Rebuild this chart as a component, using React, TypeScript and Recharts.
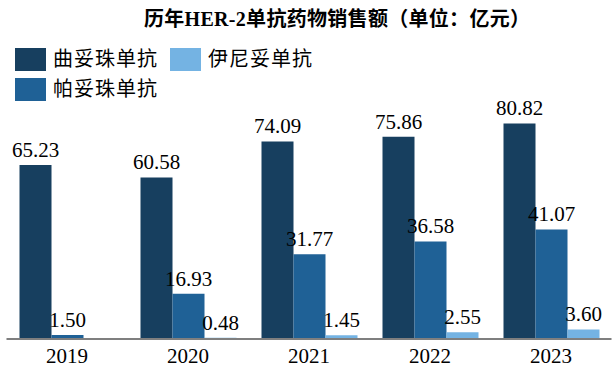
import React from 'react';
import { BarChart, Bar, XAxis, YAxis, LabelList } from 'recharts';

const years = ['2019', '2020', '2021', '2022', '2023'];
const trastuzumab = [65.23, 60.58, 74.09, 75.86, 80.82];
const pertuzumab = [1.5, 16.93, 31.77, 36.58, 41.07];
const inetetamab: (number | null)[] = [null, 0.48, 1.45, 2.55, 3.6];

const seriesNames = ['曲妥珠单抗', '帕妥珠单抗', '伊尼妥单抗'];
const colors = ['#173F5F', '#1F6196', '#74B3E3'];

const data = years.map((y, i) => ({
  year: y,
  a: trastuzumab[i],
  b: pertuzumab[i],
  c: inetetamab[i],
}));

const serif = '"Liberation Serif", "Times New Roman", serif';
const cjk = '"Liberation Serif", "Noto Sans CJK SC", serif';

const fmt = (v: any) => (v === null || v === undefined ? '' : Number(v).toFixed(2));

const LegendBox = () => (
  <div
    style={{
      position: 'absolute',
      left: 15,
      top: 48,
      display: 'grid',
      gridAutoFlow: 'column',
      gridTemplateRows: '30px 30px',
      gridTemplateColumns: '155px 160px',
    }}
  >
    {seriesNames.map((n, i) => (
      <div key={n} style={{ display: 'flex', alignItems: 'flex-start' }}>
        <div style={{ width: 31, height: 23, background: colors[i], flex: 'none' }} />
        <span
          style={{
            marginLeft: 7,
            fontFamily: cjk,
            fontSize: 20,
            letterSpacing: 1,
            lineHeight: '23px',
            color: '#000',
            whiteSpace: 'nowrap',
          }}
        >
          {n}
        </span>
      </div>
    ))}
  </div>
);

const Tick = (props: any) => {
  const { x, y, payload } = props;
  return (
    <text x={x} y={y} dy={16} textAnchor="middle" fontFamily={serif} fontSize={21} fill="#000">
      {payload.value}
    </text>
  );
};

export default function App() {
  return (
    <div style={{ position: 'absolute', left: 0, top: 0, width: 613, height: 367, background: '#fff' }}>
      <BarChart
        width={613}
        height={367}
        data={data}
        margin={{ top: 99, right: 1.5, bottom: 0, left: 6.5 }}
        barCategoryGap={13}
        barGap={0}
      >
        <XAxis
          dataKey="year"
          height={28}
          tickLine={false}
          axisLine={{ stroke: '#7f7f7f', strokeWidth: 2 }}
          tick={<Tick />}
          interval={0}
        />
        <YAxis hide domain={[0, 90]} />
        <Bar dataKey="a" name={seriesNames[0]} fill={colors[0]} isAnimationActive={false}>
          <LabelList dataKey="a" position="top" offset={8} formatter={fmt} fontFamily={serif} fontSize={21} fill="#000" />
        </Bar>
        <Bar dataKey="b" name={seriesNames[1]} fill={colors[1]} isAnimationActive={false}>
          <LabelList dataKey="b" position="top" offset={8} formatter={fmt} fontFamily={serif} fontSize={21} fill="#000" />
        </Bar>
        <Bar dataKey="c" name={seriesNames[2]} fill={colors[2]} isAnimationActive={false}>
          <LabelList dataKey="c" position="top" offset={8} formatter={fmt} fontFamily={serif} fontSize={21} fill="#000" />
        </Bar>
      </BarChart>
      <div
        style={{
          position: 'absolute',
          left: 144,
          top: 6,
          fontFamily: cjk,
          fontWeight: 'bold',
          fontSize: 20,
          letterSpacing: 0.3,
          lineHeight: '26px',
          color: '#000',
          whiteSpace: 'nowrap',
        }}
      >
        历年HER-2单抗药物销售额（单位：亿元）
      </div>
      <LegendBox />
    </div>
  );
}
